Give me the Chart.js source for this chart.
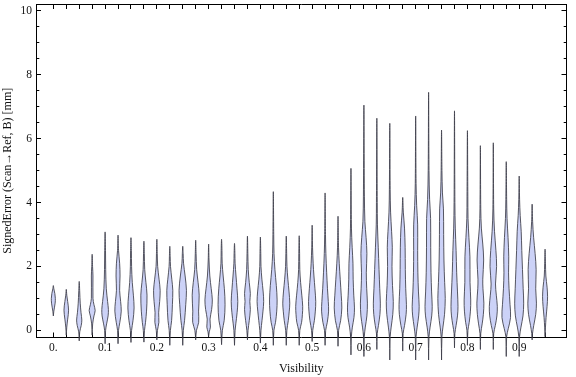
<!DOCTYPE html>
<html>
<head>
<meta charset="utf-8">
<script src="https://cdn.jsdelivr.net/npm/chart.js@4/dist/chart.umd.min.js"></script>
<style>
    html, body { margin: 0; padding: 0; background: #fff; }
    #chart { display: block; }
</style>
</head>
<body>
<canvas id="chart" width="576" height="377"></canvas>
<script>
// ======================================================
// DATA
// ======================================================
const visibility = [
    0.000, 0.025, 0.050, 0.075, 0.100, 0.125, 0.150, 0.175, 0.200, 0.225,
    0.250, 0.275, 0.300, 0.325, 0.350, 0.375, 0.400, 0.425, 0.450, 0.475,
    0.500, 0.525, 0.550, 0.575, 0.600, 0.625, 0.650, 0.675, 0.700, 0.725,
    0.750, 0.775, 0.800, 0.825, 0.850, 0.875, 0.900, 0.925, 0.950
];

// lowest / highest signed error per visibility bin [mm]
const errMin = [
    0.45, -0.15, -0.33, -0.15, -0.42, -0.42, -0.38, -0.37, -0.30, -0.47,
    -0.47, -0.30, -0.20, -0.45, -0.47, -0.30, -0.40, -0.47, -0.47, -0.47,
    -0.35, -0.47, -0.50, -0.77, -0.82, -0.60, -0.93, -0.65, -0.93, -0.93,
    -0.93, -0.55, -0.47, -0.60, -0.60, -0.82, -0.82, -0.30, -0.20
];
const errMax = [
    1.40, 1.28, 1.53, 2.38, 3.08, 2.98, 2.90, 2.79, 2.85, 2.63,
    2.63, 2.82, 2.70, 2.85, 2.72, 2.95, 2.92, 4.34, 2.95, 2.96,
    3.29, 4.30, 3.57, 5.07, 7.05, 6.64, 6.48, 4.16, 6.71, 7.45,
    6.27, 6.87, 6.25, 5.78, 5.87, 5.28, 4.83, 3.95, 2.54
];

// density profile of each bin: [error, density]
const errDensity = [
    [[0.6,0.5],[0.85,1.8],[1.0,2.0],[1.15,1.5],[1.3,0.5]],
    [[0.1,0.5],[0.35,1.4],[0.63,2.3],[0.9,1.4],[1.1,0.5]],
    [[-0.05,0.5],[0.15,2.0],[0.32,2.6],[0.55,1.8],[0.85,1.0],[1.2,0.5]],
    [[0.2,0.5],[0.45,1.8],[0.62,3.0],[0.8,1.8],[1.0,0.8],[1.7,0.8],[2.0,0.4]],
    [[0.0,0.5],[0.2,1.5],[0.45,3.0],[0.65,3.3],[0.9,2.5],[1.3,1.2],[1.9,0.6],[2.5,0.4]],
    [[0.0,0.5],[0.25,1.8],[0.6,3.2],[0.9,2.6],[1.25,1.6],[1.7,2.0],[2.1,1.6],[2.5,0.5]],
    [[0.0,0.6],[0.3,2.0],[0.7,3.1],[1.1,2.4],[1.5,1.3],[2.0,0.6],[2.5,0.4]],
    [[0.0,0.6],[0.25,1.6],[0.6,2.6],[1.1,3.1],[1.5,2.0],[1.9,0.8],[2.4,0.4]],
    [[0.0,0.6],[0.25,2.0],[0.55,1.8],[0.9,2.8],[1.25,3.3],[1.6,2.2],[2.0,0.8],[2.4,0.4]],
    [[0.0,0.6],[0.3,1.8],[0.8,2.6],[1.25,3.0],[1.6,2.0],[2.0,0.7],[2.3,0.4]],
    [[0.0,0.6],[0.3,1.8],[0.8,3.0],[1.25,3.7],[1.7,2.4],[2.1,0.8],[2.4,0.4]],
    [[0.0,0.8],[0.25,3.0],[0.6,2.9],[1.1,3.5],[1.5,2.4],[1.9,1.0],[2.4,0.4]],
    [[-0.05,0.6],[0.1,1.8],[0.35,1.4],[0.65,3.0],[0.95,3.7],[1.3,2.6],[1.7,1.2],[2.2,0.4]],
    [[0.0,0.8],[0.3,2.6],[0.8,3.5],[1.3,2.8],[1.7,1.6],[2.1,0.6],[2.5,0.4]],
    [[0.0,0.6],[0.2,1.3],[0.55,2.6],[0.9,3.3],[1.3,2.5],[1.7,1.5],[2.1,0.6],[2.4,0.4]],
    [[0.0,0.6],[0.3,1.8],[0.65,2.9],[0.9,2.4],[1.15,2.9],[1.5,1.8],[1.9,0.8],[2.4,0.4]],
    [[0.0,0.6],[0.3,1.6],[0.6,2.6],[0.9,3.3],[1.2,2.8],[1.6,1.5],[2.0,0.6],[2.4,0.4]],
    [[0.0,0.6],[0.25,2.2],[0.6,3.4],[0.95,3.8],[1.4,3.0],[1.9,1.6],[2.4,0.7],[3.0,0.4]],
    [[0.0,0.6],[0.3,2.0],[0.6,3.0],[0.85,3.5],[1.2,2.8],[1.6,1.6],[2.0,0.7],[2.4,0.4]],
    [[0.0,0.6],[0.25,2.4],[0.5,3.2],[0.75,3.5],[1.1,2.6],[1.5,1.4],[1.9,0.6],[2.4,0.4]],
    [[0.0,0.6],[0.3,2.2],[0.6,3.2],[0.9,3.6],[1.3,2.8],[1.7,1.8],[2.1,1.0],[2.6,0.4]],
    [[0.0,0.6],[0.25,2.2],[0.6,3.5],[0.9,3.2],[1.3,2.4],[1.8,1.6],[2.4,0.8],[3.0,0.4]],
    [[0.0,0.6],[0.3,2.6],[0.7,3.8],[1.1,3.2],[1.6,2.2],[2.1,1.2],[2.6,0.5]],
    [[-0.2,0.4],[0.1,1.4],[0.4,3.0],[0.7,3.5],[1.1,2.8],[1.6,2.2],[2.1,2.0],[2.6,1.2],[3.2,0.5]],
    [[-0.2,0.4],[0.1,1.4],[0.45,3.0],[0.85,3.5],[1.3,2.8],[1.8,2.4],[2.4,3.0],[2.9,2.2],[3.4,1.0],[4.2,0.5]],
    [[-0.1,0.4],[0.15,1.6],[0.5,3.1],[0.85,3.5],[1.3,2.9],[1.9,2.2],[2.6,1.4],[3.3,0.6],[4.0,0.4]],
    [[-0.2,0.4],[0.1,1.4],[0.5,3.0],[0.9,3.5],[1.4,2.7],[2.0,2.2],[2.6,2.5],[3.1,1.8],[3.7,0.8],[4.4,0.4]],
    [[-0.1,0.4],[0.15,1.8],[0.5,3.4],[0.8,3.7],[1.3,3.0],[1.9,2.6],[2.6,2.4],[3.2,1.8],[3.7,0.6]],
    [[-0.2,0.4],[0.1,1.5],[0.45,3.0],[0.75,3.5],[1.2,2.8],[1.8,2.2],[2.5,2.0],[3.3,2.0],[3.9,1.0],[4.6,0.4]],
    [[-0.2,0.4],[0.1,1.5],[0.45,3.1],[0.75,3.6],[1.2,3.0],[1.8,2.4],[2.6,2.1],[3.5,2.0],[4.1,1.0],[5.0,0.4]],
    [[-0.2,0.4],[0.1,1.4],[0.5,3.0],[1.0,3.7],[1.5,3.1],[2.2,2.4],[3.0,2.1],[3.8,1.9],[4.3,0.9],[5.0,0.4]],
    [[-0.1,0.4],[0.15,1.6],[0.45,3.0],[0.75,3.5],[1.2,3.0],[1.8,2.2],[2.5,1.6],[3.2,0.8],[4.0,0.4]],
    [[0.0,0.5],[0.25,1.8],[0.6,3.0],[0.95,3.3],[1.5,2.6],[2.3,2.5],[2.9,1.5],[3.5,0.6],[4.2,0.4]],
    [[-0.1,0.4],[0.2,1.8],[0.5,3.0],[0.85,3.5],[1.3,2.6],[1.6,2.4],[2.2,3.3],[2.7,2.4],[3.2,1.0],[3.8,0.4]],
    [[-0.1,0.4],[0.15,2.0],[0.45,3.6],[0.75,4.0],[1.1,3.0],[1.45,2.2],[2.0,3.3],[2.5,2.6],[3.1,1.2],[3.8,0.4]],
    [[-0.2,0.4],[0.05,2.0],[0.4,4.3],[0.8,3.8],[1.3,2.8],[1.8,2.3],[2.3,2.5],[2.9,1.8],[3.5,0.8],[4.1,0.4]],
    [[-0.2,0.4],[0.1,1.8],[0.45,3.8],[0.85,4.5],[1.3,4.0],[1.9,3.3],[2.5,2.6],[3.1,2.0],[3.6,1.0],[4.1,0.4]],
    [[-0.1,0.4],[0.15,1.6],[0.5,3.6],[0.85,4.3],[1.3,3.6],[1.9,4.0],[2.4,3.0],[2.9,1.5],[3.4,0.5]],
    [[0.1,0.4],[0.4,1.0],[0.75,2.0],[1.05,2.5],[1.35,2.0],[1.7,0.8],[2.1,0.4]]
];

const xTickLabels = ["0.", "0.1", "0.2", "0.3", "0.4", "0.5", "0.6", "0.7", "0.8", "0.9"];
const yTickLabels = ["0", "2", "4", "6", "8", "10"];

// ======================================================
// LOOK
// ======================================================
const X_MIN = -0.0335, X_MAX = 0.9914;
const Y_MIN = -0.21, Y_MAX = 10.2;
const Y_MINOR = 0.5;
const VIOLIN_SCALE = 0.00193;          // x units per density unit
const FILL = "rgb(204, 210, 247)";
const EDGE = "rgba(60, 60, 72, 0.85)";
const SERIF = "'Liberation Serif', 'DejaVu Serif', serif";

// ======================================================
// BUILD VIOLIN OUTLINES (right side up, left side down)
// ======================================================
function violinOutline(i) {
    const cx = visibility[i];
    const knots = errDensity[i];
    const right = knots.map(([y, d]) => ({ x: cx + d * VIOLIN_SCALE, y }));
    const left = knots.slice().reverse().map(([y, d]) => ({ x: cx - d * VIOLIN_SCALE, y }));
    return [{ x: cx, y: errMin[i] }, ...right, { x: cx, y: errMax[i] }, ...left, { x: cx, y: errMin[i] }];
}

const datasets = visibility.map((v, i) => ({
    data: violinOutline(i),
    showLine: true,
    fill: "shape",
    backgroundColor: FILL,
    borderColor: EDGE,
    borderWidth: 1,
    pointRadius: 0,
    tension: 0.35,
    clip: false
}));

// tick positions
const xTicks = visibility.map(v => ({ value: v }));
const yTicks = [];
for (let k = 0; k * Y_MINOR <= 10 + 1e-9; k++) yTicks.push({ value: k * Y_MINOR });

function isMajorY(value) {
    return Math.abs(value / 2 - Math.round(value / 2)) < 1e-6;
}

function xLabel(value) {
    const i = Math.round(value / 0.025);
    if (i % 4 !== 0) return "";
    return xTickLabels[i / 4] ?? "";
}

function yLabel(value) {
    if (!isMajorY(value)) return "";
    return yTickLabels[Math.round(value / 2)] ?? "";
}

const tickFont = { family: SERIF, size: 11.5 };
const titleFont = { family: SERIF, size: 12 };

function frameAxis(extra) {
    return Object.assign({
        type: "linear",
        border: { display: true, color: "#000", width: 1 },
        grid: { drawOnChartArea: false, tickLength: -5, tickColor: "#000", tickWidth: 1 }
    }, extra);
}

// ======================================================
// CHART
// ======================================================
function initChart() {
    new Chart(document.getElementById("chart"), {
        type: "scatter",
        data: { datasets },
        options: {
            responsive: false,
            animation: false,
            devicePixelRatio: 1,
            layout: { padding: 0 },
            elements: { line: { capBezierPoints: false } },
            plugins: { legend: { display: false }, tooltip: { enabled: false } },
            scales: {
                x: frameAxis({
                    position: "bottom",
                    min: X_MIN, max: X_MAX,
                    afterBuildTicks: s => { s.ticks = xTicks.map(t => ({ ...t })); },
                    afterFit: s => { s.height = 40; s.paddingLeft = 0; s.paddingRight = 0; },
                    grid: { drawOnChartArea: false, tickLength: -4.5, tickColor: "#000" },
                    ticks: {
                        autoSkip: false, maxRotation: 0, padding: 9,
                        font: tickFont, color: "#111",
                        callback: v => xLabel(v)
                    },
                    title: { display: true, text: "Visibility", font: titleFont, color: "#111", padding: { top: 0, bottom: 1.3 } }
                }),
                x2: frameAxis({
                    position: "top",
                    min: X_MIN, max: X_MAX,
                    afterBuildTicks: s => { s.ticks = xTicks.map(t => ({ ...t })); },
                    afterFit: s => { s.height = 4.5; s.paddingLeft = 0; s.paddingRight = 0; },
                    grid: { drawOnChartArea: false, tickLength: -4.5, tickColor: "#000" },
                    ticks: { display: false }
                }),
                y: frameAxis({
                    position: "left",
                    min: Y_MIN, max: Y_MAX,
                    afterBuildTicks: s => { s.ticks = yTicks.map(t => ({ ...t })); },
                    afterFit: s => { s.width = 36; s.paddingTop = 0; s.paddingBottom = 0; },
                    grid: {
                        drawOnChartArea: false, tickLength: -5, tickColor: "#000",
                        // left ticks run from the inner end to the frame
                        tickBorderDash: ctx => isMajorY(ctx.tick.value) ? [] : [0, 1.7, 3.3, 50]
                    },
                    ticks: {
                        autoSkip: false, padding: 9,
                        font: tickFont, color: "#111",
                        callback: v => yLabel(v)
                    },
                    title: { display: true, text: "SignedError (Scan\u2192Ref, B) [mm]", font: titleFont, color: "#111", padding: { top: 1, bottom: 0 } }
                }),
                y2: frameAxis({
                    position: "right",
                    min: Y_MIN, max: Y_MAX,
                    afterBuildTicks: s => { s.ticks = yTicks.map(t => ({ ...t })); },
                    afterFit: s => { s.width = 9.5; s.paddingTop = 0; s.paddingBottom = 0; },
                    grid: {
                        drawOnChartArea: false, tickLength: -5, tickColor: "#000",
                        tickBorderDash: ctx => isMajorY(ctx.tick.value) ? [] : [3.3, 50]
                    },
                    ticks: { display: false }
                })
            }
        }
    });
}

window.onload = () => {
    initChart();
};
</script>
</body>
</html>
